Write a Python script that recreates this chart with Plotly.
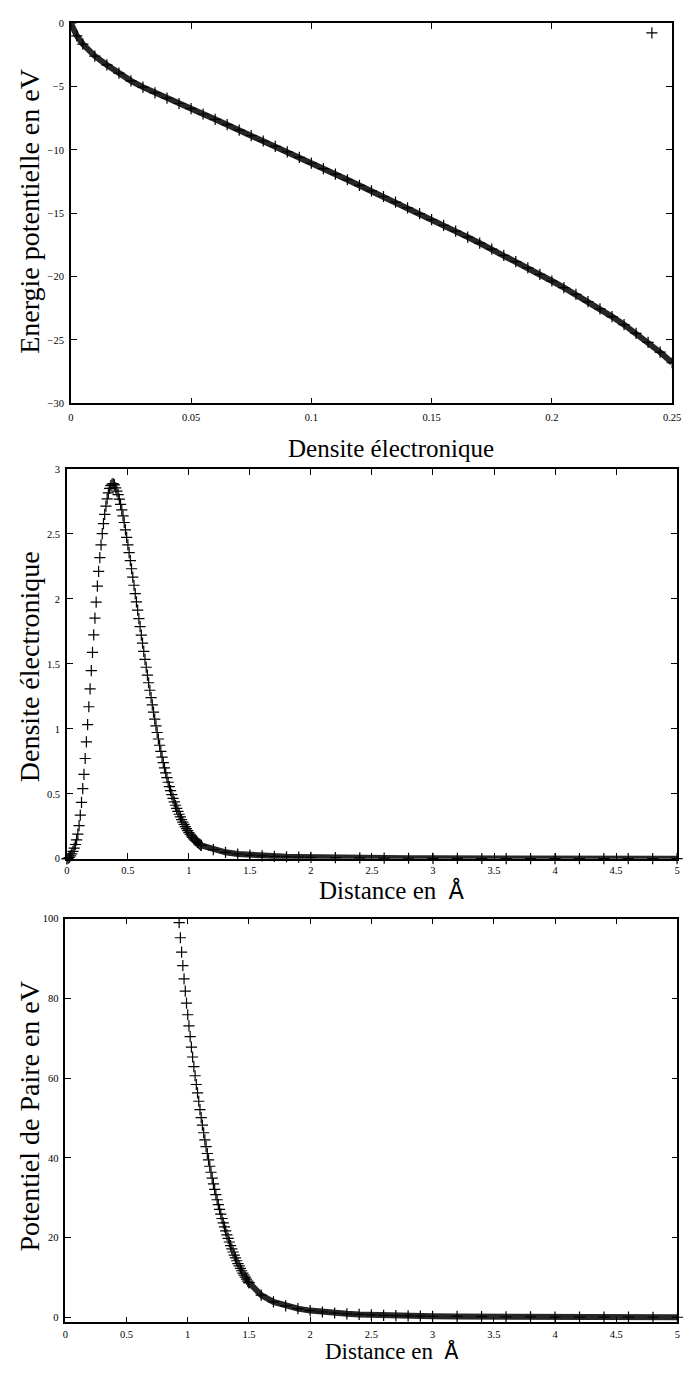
import numpy as np
import plotly.graph_objects as go

W, H = 690, 1374

# --- panel 1 : energie d'immersion F(rho)
rho = [0.0, 0.0025, 0.005, 0.01, 0.015, 0.02, 0.025, 0.03, 0.035, 0.04, 0.045,
       0.05, 0.055, 0.06, 0.065, 0.07, 0.075, 0.08, 0.085, 0.09, 0.095,
       0.1, 0.105, 0.11, 0.115, 0.12, 0.125, 0.13, 0.135, 0.14, 0.145,
       0.15, 0.155, 0.16, 0.165, 0.17, 0.175, 0.18, 0.185, 0.19, 0.195,
       0.2, 0.205, 0.21, 0.215, 0.22, 0.225, 0.23, 0.235, 0.24, 0.245, 0.25]
energie = [0.0, -1.00, -1.65, -2.60, -3.30, -3.95, -4.55, -5.05, -5.50, -5.92, -6.34,
           -6.75, -7.17, -7.59, -8.01, -8.44, -8.87, -9.30, -9.73, -10.16, -10.60,
           -11.04, -11.48, -11.92, -12.36, -12.80, -13.24, -13.68, -14.13, -14.58, -15.04,
           -15.50, -15.96, -16.42, -16.89, -17.36, -17.84, -18.33, -18.82, -19.32, -19.83,
           -20.35, -20.87, -21.41, -21.97, -22.55, -23.16, -23.80, -24.48, -25.20, -25.97, -26.80]

# --- panel 2 : densite electronique rho(r), points tous les 0.01 A jusqu'a 1.1
dens_r0, pas = 0.0, 0.01
dens_proche = [0.000, 0.003, 0.010, 0.022, 0.038, 0.058, 0.082, 0.110, 0.145, 0.190,
               0.255, 0.336, 0.435, 0.540, 0.650, 0.772, 0.900, 1.033, 1.170, 1.308,
               1.448, 1.588, 1.723, 1.852, 1.975, 2.098, 2.212, 2.318, 2.416, 2.503,
               2.580, 2.651, 2.714, 2.770, 2.816, 2.850, 2.872, 2.884, 2.887, 2.878,
               2.855, 2.830, 2.802, 2.768, 2.728, 2.685, 2.639, 2.588, 2.532, 2.474,
               2.416, 2.356, 2.295, 2.232, 2.168, 2.105, 2.041, 1.977, 1.913, 1.849,
               1.786, 1.722, 1.659, 1.597, 1.535, 1.474, 1.414, 1.355, 1.297, 1.240,
               1.184, 1.129, 1.075, 1.023, 0.972, 0.922, 0.874, 0.827, 0.782, 0.740,
               0.700, 0.661, 0.624, 0.589, 0.556, 0.524, 0.494, 0.465, 0.438, 0.412,
               0.388, 0.365, 0.343, 0.322, 0.302, 0.283, 0.265, 0.248, 0.232, 0.217,
               0.202, 0.189, 0.177, 0.165, 0.154, 0.144, 0.135, 0.126, 0.118, 0.111, 0.104]
dens_queue_r = [1.1, 1.2, 1.3, 1.4, 1.5, 1.6, 1.7, 1.8, 1.9, 2.0, 2.2, 2.4, 2.6, 2.8,
                3.0, 3.2, 3.4, 3.6, 3.8, 4.0, 4.2, 4.4, 4.6, 4.8, 5.0]
dens_queue = [0.104, 0.071, 0.050, 0.037, 0.029, 0.023, 0.019, 0.016, 0.013, 0.011,
              0.009, 0.007, 0.0055, 0.0045, 0.0036, 0.003, 0.0025, 0.002, 0.0017,
              0.0015, 0.0013, 0.0012, 0.0011, 0.001, 0.001]

# --- panel 3 : potentiel de paire phi(r)
paire_r0 = 0.93
paire_proche = [99.0, 95.2, 91.6, 88.2, 84.9, 81.8, 78.8, 75.9, 73.1, 70.4,
                67.8, 65.3, 62.9, 60.6, 58.4, 56.3, 54.2, 52.1, 50.1, 48.2,
                46.3, 44.5, 42.8, 41.1, 39.5, 37.9, 36.4, 34.9, 33.5, 32.1,
                30.8, 29.5, 28.3, 27.1, 25.9, 24.8, 23.7, 22.7, 21.7, 20.7,
                19.8, 18.9, 18.0, 17.2, 16.4, 15.6, 14.9, 14.2, 13.5, 12.9,
                12.3, 11.7, 11.1, 10.6, 10.1, 9.6, 9.1, 8.7]
paire_queue_r = [1.5, 1.6, 1.7, 1.8, 1.9, 2.0, 2.1, 2.2, 2.3, 2.4, 2.5, 2.6, 2.7, 2.8,
                 2.9, 3.0, 3.2, 3.4, 3.6, 3.8, 4.0, 4.2, 4.4, 4.6, 4.8, 5.0]
paire_queue = [8.7, 5.6, 3.9, 2.9, 2.2, 1.7, 1.35, 1.1, 0.9, 0.75, 0.62, 0.52, 0.44, 0.38,
               0.33, 0.29, 0.23, 0.18, 0.14, 0.11, 0.09, 0.07, 0.06, 0.05, 0.04, 0.03]

dens_x = np.round(dens_r0 + pas * np.arange(len(dens_proche)), 3)
paire_x = np.round(paire_r0 + pas * np.arange(len(paire_proche)), 3)


def px_x(p):
    return p / W


def px_y(p):
    return 1 - p / H


croix = dict(symbol="cross-thin", size=8, color="black", line=dict(color="black", width=1.2))
bande = dict(color="#262626", width=6)

fig = go.Figure()
fig.add_trace(go.Scatter(x=rho, y=energie, mode="lines+markers", line=bande, marker=croix,
                         xaxis="x", yaxis="y", showlegend=False))
fig.add_trace(go.Scatter(x=[None], y=[None], mode="markers", marker=croix, name=" ",
                         xaxis="x", yaxis="y", showlegend=True))
fig.add_trace(go.Scatter(x=dens_x, y=dens_proche, mode="markers", marker=croix,
                         xaxis="x2", yaxis="y2", showlegend=False, cliponaxis=False))
fig.add_trace(go.Scatter(x=dens_queue_r, y=dens_queue, mode="lines+markers", line=bande,
                         marker=croix, xaxis="x2", yaxis="y2", showlegend=False, cliponaxis=False))
fig.add_trace(go.Scatter(x=paire_x, y=paire_proche, mode="markers", marker=croix,
                         xaxis="x3", yaxis="y3", showlegend=False, cliponaxis=False))
fig.add_trace(go.Scatter(x=paire_queue_r, y=paire_queue, mode="lines+markers", line=bande,
                         marker=croix, xaxis="x3", yaxis="y3", showlegend=False, cliponaxis=False))

police = "Liberation Serif, Times New Roman, serif"


def axe(domain, rng, dtick, anchor, standoff=3):
    return dict(domain=domain, range=rng, dtick=dtick, tick0=0, anchor=anchor,
                showline=True, linecolor="black", linewidth=1.5, mirror="ticks",
                ticks="inside", ticklen=6, tickwidth=1, tickcolor="black",
                showgrid=False, zeroline=False, ticklabelstandoff=standoff,
                tickfont=dict(family=police, size=10.5, color="black"))


fig.update_layout(
    width=W, height=H,
    margin=dict(l=0, r=0, t=0, b=0),
    paper_bgcolor="white", plot_bgcolor="white",
    xaxis=axe([px_x(69), px_x(681)], [0, 0.2500001], 0.05, "y"),
    yaxis=axe([px_y(401.5), px_y(18.3)], [-30, 0], 5, "x"),
    xaxis2=axe([px_x(65), px_x(686)], [0, 5.000001], 0.5, "y2", standoff=1),
    yaxis2=axe([px_y(860.7), px_y(467.7)], [0, 3], 0.5, "x2"),
    xaxis3=axe([px_x(63.4), px_x(686.4)], [0, 5.000001], 0.5, "y3", standoff=1),
    yaxis3=axe([px_y(1328), px_y(921)], [-1.25, 100], 20, "x3"),
    legend=dict(x=px_x(640), y=px_y(28), xanchor="left", yanchor="middle",
                bgcolor="rgba(0,0,0,0)", font=dict(family=police, size=12)),
)

ang = "\u00a0\u00a0<span style='font-family:Liberation Mono'>Å</span>"
titres = [
    (395, 447, "Densite électronique", 0, 25),
    (395, 894, "Distance en" + ang, 0, 25),
    (395, 1358, "Distance en" + ang, 0, 23),
    (27, 208, "Energie potentielle en eV", -90, 28),
    (27, 667, "Densite électronique", -90, 28),
    (27, 1120, "Potentiel de Paire en eV", -90, 28),
]
for x, y, txt, angle, taille in titres:
    fig.add_annotation(x=px_x(x), y=px_y(y), xref="paper", yref="paper", text=txt,
                       showarrow=False, textangle=angle, xanchor="center", yanchor="middle",
                       font=dict(family=police, size=taille, color="black"))

fig.write_html("out.html", config={"displayModeBar": False},
               post_script="document.body.style.margin='0px';"
                           "document.body.style.overflow='hidden';"
                           "document.documentElement.style.overflow='hidden';")
